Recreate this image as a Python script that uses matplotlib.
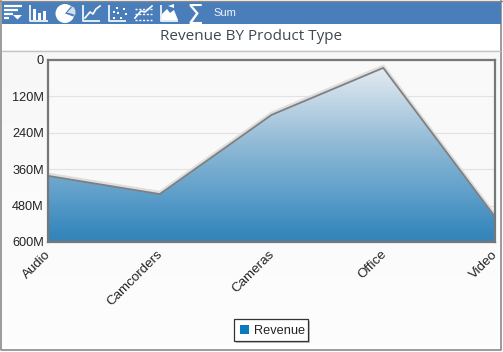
import numpy as np
import matplotlib
matplotlib.use("Agg")
import matplotlib.pyplot as plt
from matplotlib.colors import LinearSegmentedColormap
from matplotlib.patches import Polygon, Rectangle, Wedge, Circle
from matplotlib.transforms import Affine2D

W, H = 503, 352

categories = ["Audio", "Camcorders", "Cameras", "Office", "Video"]
revenue = [382, 442, 181, 26, 517]
y_ticks = [0, 120, 240, 360, 480, 600]
y_labels = ["0", "120M", "240M", "360M", "480M", "600M"]

fig = plt.figure(figsize=(W / 100, H / 100), dpi=100, facecolor="white")
plt.rcParams["font.family"] = ["Liberation Sans", "DejaVu Sans"]

# background layer in pixel coords
bg = fig.add_axes([0, 0, 1, 1])
bg.axis("off")

# panel below title, fades to a very light gray
fade = LinearSegmentedColormap.from_list("fade", ["#f7f7f7", "#fbfbfb", "#fdfdfd"])
bg.imshow(np.linspace(0, 1, 64).reshape(-1, 1), cmap=fade, extent=[2, 500, 349, 50], aspect="auto", zorder=0)
bg.set_xlim(0, W)
bg.set_ylim(H, 0)
bg.plot([1.5, 1.5, 501, 501], [1, 349.5, 349.5, 1], color="#8a8a8a", lw=1.2, zorder=1)
bg.plot([2, 500], [50.5, 50.5], color="#c4c4c4", lw=1, zorder=1)
bg.add_patch(Rectangle((2, 2), 499, 21.5, fc="#4a7ebb", ec="none", zorder=2))
bg.plot([0, 503], [1, 1], color="#888888", lw=1, zorder=3)

# toolbar icons
ic = dict(color="white", solid_capstyle="butt", zorder=4)
for y, x1 in [(6, 22), (10, 18), (14, 13), (18, 9)]:
    bg.plot([4, x1], [y, y], lw=1.6, **ic)
bg.add_patch(Polygon([[13, 15], [22, 15], [17.5, 19.5]], fc="white", ec="none", zorder=4))

bg.plot([30.5, 30.5, 48], [5, 21, 21], lw=1.2, **ic)
for x, top in [(35, 9), (40, 13), (45, 11)]:
    bg.add_patch(Rectangle((x - 1.5, top), 3, 20 - top, fc="white", ec="none", zorder=4))

bg.add_patch(Circle((65, 13.5), 9.5, fc="white", ec="none", zorder=4))
bg.add_patch(Wedge((65, 13.5), 9, 310, 20, fc="#4a7ebb", ec="none", zorder=4))
bg.add_patch(Wedge((67, 12.5), 8.5, 315, 15, fc="#d5dfeb", ec="none", zorder=4))

bg.plot([83.5, 83.5, 100], [5, 21, 21], lw=1.2, **ic)
bg.plot([85, 90, 93, 96, 100], [18, 12, 14, 9, 6], lw=1.2, color="white", zorder=4)

bg.plot([109.5, 109.5, 126], [5, 21, 21], lw=1.2, **ic)
for x, y in [(113, 17), (117, 12), (120, 17), (123, 8), (125, 13), (116, 7), (113, 11)]:
    bg.add_patch(Rectangle((x, y), 2, 2, fc="white", ec="none", zorder=4))

for y in [9, 14, 20]:
    bg.plot([135, 152], [y, y], lw=1, color="white", ls=(0, (1.5, 1.2)), zorder=4)
bg.plot([135, 141, 145, 152], [18, 11, 12, 6], lw=1.2, color="white", zorder=4)

bg.plot([161, 161, 178], [5, 21, 21], lw=1.2, **ic)
bg.add_patch(Polygon([[162, 20], [162, 14], [167, 9], [170, 13], [174, 10], [178, 20]], fc="white", ec="none", zorder=4))
bg.add_patch(Polygon([[168, 6], [174, 4], [174, 8]], fc="white", ec="none", zorder=4))

bg.text(194.5, 17.5, "\u03a3", color="white", fontsize=19, ha="center", va="center", family="DejaVu Sans", zorder=4)
bg.text(213, 12.5, "Sum", color="#eef3f9", fontsize=8, ha="left", va="center", zorder=4)

bg.text(251, 36, "Revenue BY Product Type", color="#3f4750", fontsize=11, family="Open Sans", ha="center", va="center", zorder=4)

# plot area
ax = fig.add_axes([48 / W, 1 - 242 / H, (495 - 48) / W, (242 - 60) / H])
ax.set_facecolor("#f9f9f9")
x = np.arange(len(categories))
ax.set_xlim(0, len(categories) - 1)
ax.set_ylim(600, 0)
ax.set_yticks(y_ticks)
ax.set_yticklabels(y_labels, fontsize=9.2, color="#222222")
ax.set_xticks(x)
ax.set_xticklabels(categories, fontsize=9.6, color="#222222", rotation=45, ha="right", rotation_mode="anchor")
ax.tick_params(length=0, pad=3)
ax.tick_params(axis="x", pad=6)
ax.grid(axis="y", color="#e2e2e2", lw=0.8)
ax.set_axisbelow(True)
for s in ax.spines.values():
    s.set_color("#777777")
    s.set_linewidth(1.6)
    s.set_zorder(6)

# nudge tick labels to where the reference has them
for lab in ax.get_xticklabels():
    lab.set_transform(lab.get_transform() + Affine2D().translate(-3, 2))
for lab in ax.get_yticklabels():
    lab.set_transform(lab.get_transform() + Affine2D().translate(0, 0))

# gradient area
grad = LinearSegmentedColormap.from_list("area", [(0, "#e6ecf1"), (0.45, "#8fb9d6"), (0.75, "#5a9dc9"), (0.95, "#3787bd"), (1, "#3585bb")])
im = ax.imshow(np.linspace(0, 1, 256).reshape(-1, 1), cmap=grad, extent=[0, 4, 600, 20], aspect="auto", zorder=2)
ax.set_xlim(0, len(categories) - 1)
ax.set_ylim(600, 0)
verts = list(zip(x, revenue)) + [(4, 600), (0, 600)]
clip = Polygon(verts, transform=ax.transData, fc="none", ec="none")
ax.add_patch(clip)
im.set_clip_path(clip)

# soft shadow then the line
shadow_y = [v - 5 for v in revenue]
ax.plot(x, shadow_y, color="#dedede", lw=2.5, zorder=1.5)
ax.plot(x, revenue, color="#808080", lw=1.3, zorder=3)

# legend box
bg2 = fig.add_axes([0, 0, 1, 1], zorder=5)
bg2.set_xlim(0, W)
bg2.set_ylim(H, 0)
bg2.axis("off")
bg2.add_patch(Rectangle((236, 321), 74, 22, fc="#999999", ec="none", alpha=0.6))
bg2.add_patch(Rectangle((234.5, 318.5), 74, 22, fc="white", ec="#333333", lw=0.9))
bg2.add_patch(Rectangle((240, 325), 9, 9, fc="#0a7bbd", ec="none"))
bg2.text(254, 330.5, "Revenue", fontsize=9.2, color="#222222", ha="left", va="center")

fig.savefig("out.png", dpi=100)
